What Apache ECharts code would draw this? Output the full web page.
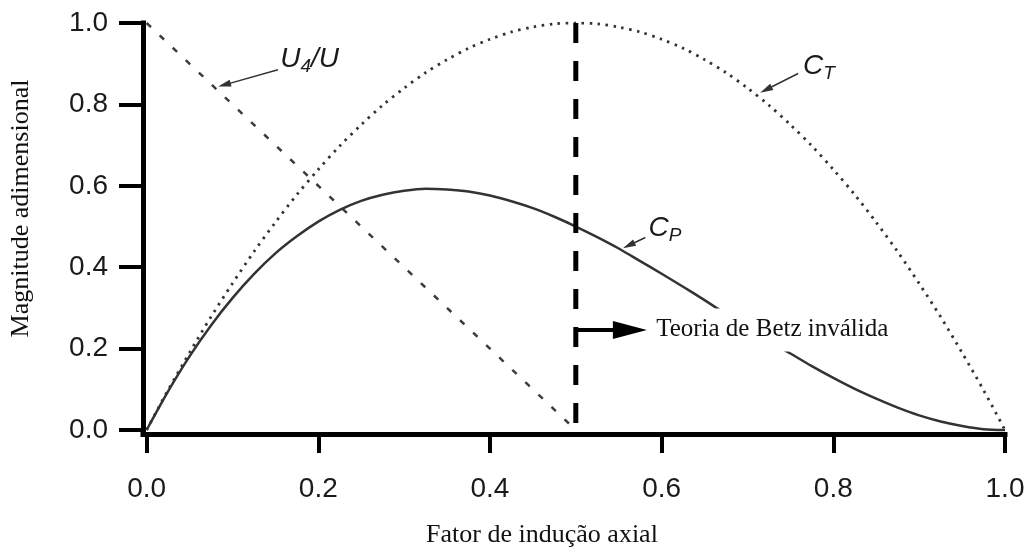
<!DOCTYPE html>
<html>
<head>
<meta charset="utf-8">
<script src="https://cdn.jsdelivr.net/npm/echarts@6/dist/echarts.min.js"></script>
<style>
  html, body { margin: 0; padding: 0; background: #ffffff; }
  #chart { width: 1031px; height: 553px; }
</style>
</head>
<body>
<div id="chart"></div>
<script>
// Axial induction factor a (x values)
const inductionFactor = [0, 0.025, 0.05, 0.075, 0.10, 0.125, 0.15, 0.175, 0.20, 0.225, 0.25,
                         0.275, 0.30, 0.325, 0.35, 0.375, 0.40, 0.425, 0.45, 0.475, 0.50,
                         0.525, 0.55, 0.575, 0.60, 0.625, 0.65, 0.675, 0.70, 0.725, 0.75,
                         0.775, 0.80, 0.825, 0.85, 0.875, 0.90, 0.925, 0.95, 0.975, 1.00];
// Power coefficient C_P
const powerCoef = [0, 0.095, 0.181, 0.257, 0.324, 0.383, 0.434, 0.476, 0.512, 0.541, 0.563,
                   0.578, 0.588, 0.593, 0.591, 0.586, 0.576, 0.562, 0.545, 0.524, 0.500,
                   0.474, 0.446, 0.415, 0.384, 0.352, 0.319, 0.285, 0.252, 0.219, 0.188,
                   0.157, 0.128, 0.101, 0.077, 0.055, 0.036, 0.021, 0.010, 0.002, 0];
// Thrust coefficient C_T
const thrustCoef = [0, 0.098, 0.190, 0.278, 0.360, 0.438, 0.510, 0.578, 0.640, 0.698, 0.750,
                    0.798, 0.840, 0.878, 0.910, 0.938, 0.960, 0.978, 0.990, 0.998, 1.000,
                    0.998, 0.990, 0.978, 0.960, 0.938, 0.910, 0.878, 0.840, 0.798, 0.750,
                    0.698, 0.640, 0.578, 0.510, 0.438, 0.360, 0.278, 0.190, 0.098, 0];
// Far-wake speed ratio U4/U
const wakeFactor = [0, 0.5];
const wakeSpeedRatio = [1.0, 0.0];
// Limit of validity of Betz theory
const betzLimit = 0.5;
const betzLine = [1.0, 0.0];
// Tick labels
const xTicks = [0, 0.2, 0.4, 0.6, 0.8, 1.0];
const yTicks = [0, 0.2, 0.4, 0.6, 0.8, 1.0];

const pairs = (xs, ys) => xs.map((x, i) => [x, ys[i]]);

const sansLabel = 'Liberation Sans';
const serif = 'Liberation Serif';

const symRich = {
  c: { fontFamily: sansLabel, fontStyle: 'italic', fontSize: 28, color: '#1a1a1a' },
  s: { fontFamily: sansLabel, fontStyle: 'italic', fontSize: 19, color: '#1a1a1a', padding: [14, 0, 0, 0] }
};

// thin leader with a small filled head; the head is centred on `to`
function pointer(from, to) {
  return [
    { coord: from, symbol: 'none' },
    { coord: to, symbol: 'triangle', symbolSize: [7, 13] }
  ];
}

function tag(at, text) {
  return {
    coord: at,
    symbol: 'circle',
    symbolSize: 1,
    itemStyle: { color: 'rgba(0,0,0,0)' },
    label: {
      show: true, position: 'right', distance: 0,
      formatter: text, rich: symRich
    }
  };
}

const chart = echarts.init(document.getElementById('chart'), null, { renderer: 'canvas' });

chart.setOption({
  animation: false,
  backgroundColor: '#ffffff',
  grid: { left: 143, right: 26, top: 23, bottom: 116, containLabel: false },
  xAxis: {
    type: 'value',
    min: -0.0042, max: 1.0,
    name: 'Fator de indução axial',
    nameLocation: 'middle',
    nameGap: 88,
    nameTextStyle: { fontFamily: serif, fontSize: 26, color: '#111', padding: [0, 64, 0, 0] },
    axisLine: { onZero: false, lineStyle: { color: '#000', width: 5, cap: 'square' } },
    axisTick: { show: true, inside: false, length: 19, customValues: xTicks,
                lineStyle: { color: '#000', width: 4 } },
    axisLabel: { customValues: xTicks, margin: 41, fontFamily: sansLabel, fontSize: 28, color: '#1a1a1a',
                 formatter: v => v.toFixed(1) },
    splitLine: { show: false }
  },
  yAxis: {
    type: 'value',
    min: -0.0098, max: 1.0,
    name: 'Magnitude adimensional',
    nameLocation: 'middle',
    nameGap: 109,
    nameTextStyle: { fontFamily: serif, fontSize: 26, color: '#111', padding: [0, 0, 0, 40] },
    axisLine: { onZero: false, lineStyle: { color: '#000', width: 5, cap: 'square' } },
    axisTick: { show: true, inside: false, length: 24, customValues: yTicks,
                lineStyle: { color: '#000', width: 4 } },
    axisLabel: { customValues: yTicks, margin: 35, fontFamily: sansLabel, fontSize: 28, color: '#1a1a1a',
                 formatter: v => v.toFixed(1) },
    splitLine: { show: false }
  },
  series: [
    {
      name: 'U4/U',
      type: 'line',
      data: pairs(wakeFactor, wakeSpeedRatio),
      showSymbol: false,
      lineStyle: { color: '#3c3c3c', width: 2.5, type: [6, 12] },
      z: 3,
      markLine: {
        silent: true, animation: false,
        lineStyle: { color: '#333', width: 1.5, type: 'solid' },
        label: { show: false },
        data: [pointer([0.153, 0.885], [0.0906, 0.848])]
      },
      markPoint: {
        silent: true, animation: false,
        data: [tag([0.155, 0.91], '{c|U}{s|4}{c|/U}')]
      }
    },
    {
      name: 'C_T',
      type: 'line',
      data: pairs(inductionFactor, thrustCoef),
      smooth: 0.3,
      showSymbol: false,
      lineStyle: { color: '#333', width: 2.8, type: [2.5, 5.5] },
      z: 3,
      markLine: {
        silent: true, animation: false,
        lineStyle: { color: '#333', width: 1.5, type: 'solid' },
        label: { show: false },
        data: [pointer([0.759, 0.876], [0.7215, 0.836])]
      },
      markPoint: {
        silent: true, animation: false,
        data: [tag([0.764, 0.893], '{c|C}{s|T}')]
      }
    },
    {
      name: 'C_P',
      type: 'line',
      data: pairs(inductionFactor, powerCoef),
      smooth: 0.3,
      showSymbol: false,
      lineStyle: { color: '#333', width: 2.5, type: 'solid' },
      z: 3,
      markLine: {
        silent: true, animation: false,
        lineStyle: { color: '#333', width: 1.5, type: 'solid' },
        label: { show: false },
        data: [pointer([0.581, 0.473], [0.5617, 0.4534])]
      },
      markPoint: {
        silent: true, animation: false,
        data: [tag([0.584, 0.495], '{c|C}{s|P}')]
      }
    },
    {
      name: 'Betz',
      type: 'line',
      data: pairs([betzLimit, betzLimit], betzLine),
      showSymbol: false,
      lineStyle: { color: '#000', width: 5, type: [20, 18] },
      z: 4,
      markLine: {
        silent: true, animation: false,
        lineStyle: { color: '#000', width: 4, type: 'solid' },
        label: { show: false },
        data: [[
          { coord: [betzLimit, 0.246], symbol: 'none' },
          { coord: [0.563, 0.246], symbol: 'triangle', symbolSize: [18, 34] }
        ]]
      },
      markPoint: {
        silent: true, animation: false,
        data: [{
          coord: [0.593, 0.246],
          symbol: 'circle', symbolSize: 1,
          itemStyle: { color: 'rgba(0,0,0,0)' },
          label: { show: true, position: 'right', distance: 0,
                   formatter: 'Teoria de Betz inválida',
                   fontFamily: serif, fontSize: 25, color: '#111',
                   backgroundColor: '#ffffff', padding: [9, 2, 9, 0] }
        }]
      }
    }
  ]
});
</script>
</body>
</html>
